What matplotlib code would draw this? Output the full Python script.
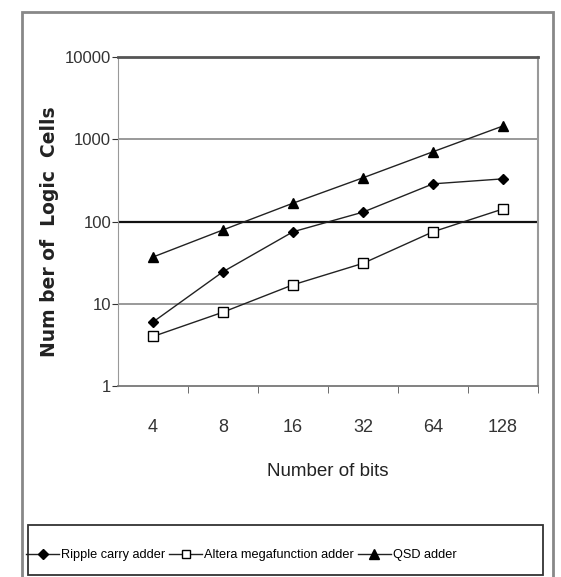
import matplotlib.pyplot as plt
from matplotlib.patches import Rectangle
from matplotlib.lines import Line2D

plt.rcParams['font.family'] = ['Liberation Sans Narrow', 'Liberation Sans', 'DejaVu Sans']

# data
bits = ['4', '8', '16', '32', '64', '128']
ripple = [6, 24.5, 75, 130, 287, 330]
altera = [4, 7.9, 17, 31, 75, 142]
qsd = [37, 79, 167, 340, 705, 1450]

fig = plt.figure(figsize=(5.61, 5.77), dpi=100)
ax = fig.add_axes([118/561, 1-386/577, 420/561, 329/577])

x = range(len(bits))
ax.plot(x, ripple, color='#222222', lw=1, marker='D', ms=5.5, mfc='black', mec='black')
ax.plot(x, altera, color='#222222', lw=1, marker='s', ms=7, mfc='white', mec='black')
ax.plot(x, qsd, color='#222222', lw=1, marker='^', ms=7, mfc='black', mec='black')

ax.set_yscale('log')
ax.set_ylim(1, 10000)
ax.set_xlim(-0.5, len(bits) - 0.5)
ax.set_yticks([1, 10, 100, 1000, 10000])
ax.set_yticklabels(['1', '10', '100', '1000', '10000'])
ax.minorticks_off()
ax.set_xticks(x)
ax.set_xticklabels(bits)
ax.set_xticks([i + 0.5 for i in x], minor=True)
ax.tick_params(axis='x', which='major', length=0, pad=24, labelsize=13, colors='#333333')
ax.tick_params(axis='x', which='minor', length=5, color='#555555', direction='out')
ax.tick_params(axis='y', length=4, labelsize=12, colors='#333333', pad=1)

for v, c, w in [(10, '#888888', 1.2), (100, '#111111', 1.6), (1000, '#888888', 1.2)]:
    ax.axhline(v, color=c, lw=w, zorder=0)

ax.spines['top'].set_color('#555555')
ax.spines['top'].set_linewidth(2)
ax.spines['right'].set_color('#999999')
ax.spines['right'].set_linewidth(1.5)
ax.spines['left'].set_color('#999999')
ax.spines['bottom'].set_color('#777777')
ax.spines['bottom'].set_linewidth(1.3)

ax.set_xlabel('Number of bits', fontsize=13.5, color='#222222', labelpad=19)
fig.text(50/561, 1-232/577, 'Num ber of  Logic  Cells', rotation=90, ha='center', va='center',
         fontsize=13.5, fontweight='heavy', family='DejaVu Sans', color='#222222')

# outer frame
fig.patches.append(Rectangle((22/561, -0.01), 531/561, 1-12/577 + 0.01, transform=fig.transFigure,
                             fill=False, ec='#888888', lw=2))
fig.patches.append(Rectangle((28/561, 2/577), 515/561, 50/577, transform=fig.transFigure,
                             fill=False, ec='#333333', lw=1.3))

handles = [
    Line2D([], [], color='#222222', lw=1, marker='D', ms=5.5, mfc='black', mec='black'),
    Line2D([], [], color='#222222', lw=1, marker='s', ms=5.5, mfc='white', mec='black'),
    Line2D([], [], color='#222222', lw=1, marker='^', ms=6.5, mfc='black', mec='black'),
]
fig.legend(handles, ['Ripple carry adder', 'Altera megafunction adder', 'QSD adder'],
           loc='center left', bbox_to_anchor=(26/561, 1-555/577), ncol=3, frameon=False,
           fontsize=9.2, handlelength=2.6, handletextpad=0.15, columnspacing=0.3,
           borderaxespad=0, borderpad=0)

fig.savefig('out.png', dpi=100)
